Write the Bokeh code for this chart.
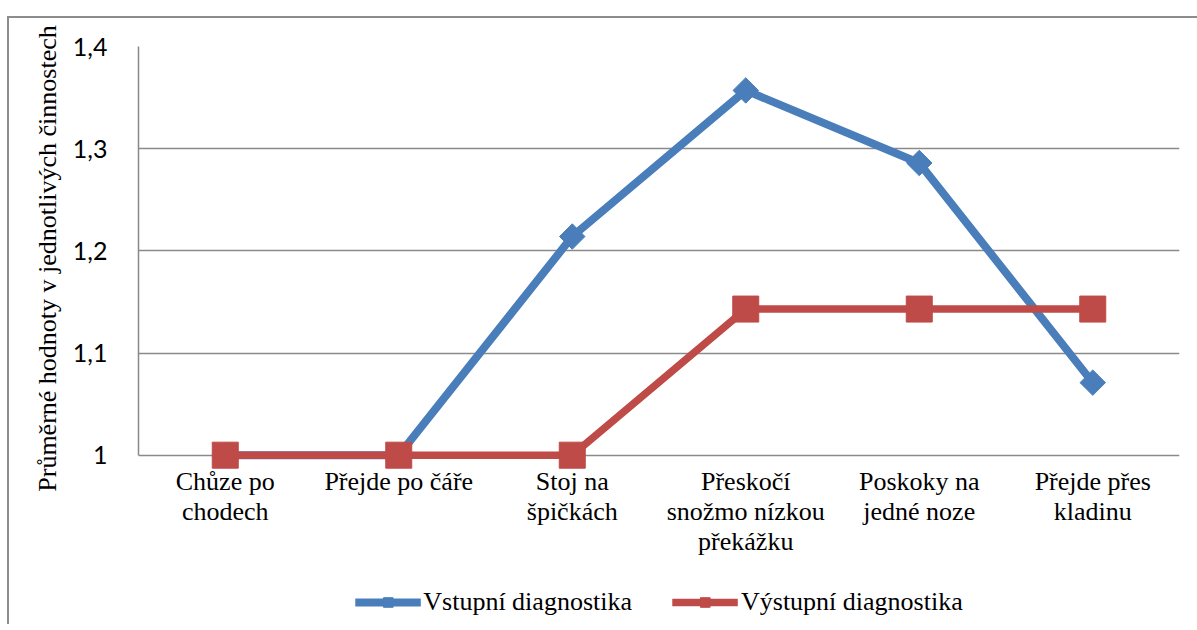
import math
from bokeh.plotting import figure
from bokeh.layouts import column
from bokeh.models import FixedTicker, Legend, LegendItem, Range1d
from bokeh.embed import file_html
from bokeh.resources import INLINE

categories = ["Chůze po\nchodech", "Přejde po čáře", "Stoj na\nšpičkách",
              "Přeskočí\nsnožmo nízkou\npřekážku", "Poskoky na\njedné noze", "Přejde přes\nkladinu"]
vstupni = [1.0, 1.0, 1.214, 1.357, 1.286, 1.071]
vystupni = [1.0, 1.0, 1.0, 1.143, 1.143, 1.143]
y_ticks = [1.0, 1.1, 1.2, 1.3, 1.4]
y_labels = ["1", "1,1", "1,2", "1,3", "1,4"]
series_names = ["Vstupní diagnostika", "Výstupní diagnostika"]

xs = [i + 0.5 for i in range(len(categories))]

BLUE = "#4A7EBB"
RED = "#BE4B48"
SERIF = "Liberation Serif"

p = figure(width=1188, height=562, output_backend="svg", toolbar_location=None,
           x_range=Range1d(0, len(categories)), y_range=Range1d(0.985, 1.4),
           min_border_left=129, min_border_right=18, min_border_top=28, min_border_bottom=110)
p.outline_line_color = None
p.background_fill_color = "white"

# axes
p.xaxis.ticker = FixedTicker(ticks=xs)
p.xaxis.major_label_overrides = {x: c for x, c in zip(xs, categories)}
p.xaxis.axis_line_color = None
p.xaxis.major_tick_line_color = None
p.xaxis.minor_tick_line_color = None
p.xaxis.major_tick_out = 0
p.xaxis.major_tick_in = 0
p.xaxis.major_label_text_font = SERIF
p.xaxis.major_label_text_font_size = "26px"
p.xaxis.major_label_text_color = "black"
p.xaxis.major_label_text_line_height = 1.04
p.xaxis.major_label_standoff = -4

p.yaxis.ticker = FixedTicker(ticks=y_ticks)
p.yaxis.bounds = (1.0, 1.4)
p.yaxis.major_label_overrides = {t: l for t, l in zip(y_ticks, y_labels)}
p.yaxis.axis_line_color = "#888888"
p.yaxis.axis_line_width = 1.5
p.yaxis.major_tick_line_color = None
p.yaxis.minor_tick_line_color = None
p.yaxis.major_label_text_font = "Lato"
p.yaxis.major_label_text_font_size = "25px"
p.yaxis.major_label_text_color = "black"
p.yaxis.major_label_standoff = 25
p.yaxis.axis_label = "Průměrné hodnoty v jednotlivých činnostech"
p.yaxis.axis_label_text_font = SERIF
p.yaxis.axis_label_text_font_size = "26px"
p.yaxis.axis_label_text_font_style = "normal"
p.yaxis.axis_label_text_color = "black"
p.yaxis.axis_label_standoff = 8

p.xgrid.grid_line_color = None
p.ygrid.ticker = FixedTicker(ticks=y_ticks)
p.ygrid.grid_line_color = "#8a8a8a"
p.ygrid.grid_line_width = 1.5

# series
p.line(xs, vstupni, line_color=BLUE, line_width=8)
p.scatter(xs, vstupni, marker="square", size=18, angle=math.pi / 4,
          fill_color=BLUE, line_color=BLUE)
p.line(xs, vystupni, line_color=RED, line_width=7.5)
p.scatter(xs, vystupni, marker="square", size=26, fill_color=RED, line_color=RED)

# legend strip: a separate canvas below the chart; its ranges keep the series out of view
lg = figure(width=1188, height=44, output_backend="svg", toolbar_location=None,
            x_axis_type=None, y_axis_type=None, min_border=0,
            x_range=Range1d(100, 101), y_range=Range1d(100, 101))
lg.outline_line_color = None
lg.grid.visible = False
g1 = lg.line(xs, vstupni, line_color=BLUE, line_width=8)
s1 = lg.scatter(xs, vstupni, marker="square", size=18, angle=math.pi / 4,
                fill_color=BLUE, line_color=BLUE)
g2 = lg.line(xs, vystupni, line_color=RED, line_width=7.5)
s2 = lg.scatter(xs, vystupni, marker="square", size=26, fill_color=RED, line_color=RED)

legend = Legend(items=[LegendItem(label=series_names[0], renderers=[g1, s1]),
                       LegendItem(label=series_names[1], renderers=[g2, s2])],
                orientation="horizontal", location="center",
                glyph_width=66, glyph_height=24, label_standoff=3, spacing=40,
                margin=0, padding=2,
                label_text_font=SERIF, label_text_font_size="26px",
                label_text_color="black",
                border_line_color=None, background_fill_alpha=0)
lg.add_layout(legend, "center")

layout = column(p, lg, spacing=0, margin=(16, 0, 0, 7),
                styles={"border-top": "2px solid #8c8c8c", "border-left": "2px solid #8c8c8c"})
open("out.html", "w").write(file_html(layout, INLINE))
